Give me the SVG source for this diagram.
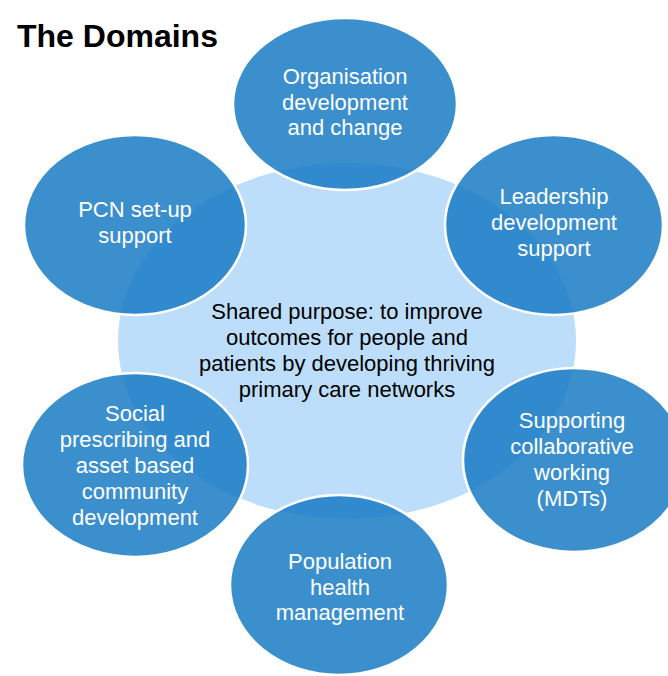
<svg xmlns="http://www.w3.org/2000/svg" width="668" height="676" viewBox="0 0 668 676">
<style>
.title{font-family:"Liberation Sans",Arial,sans-serif;font-weight:bold;font-size:32px;fill:#000}
.domain{fill:#1478C3;fill-opacity:0.83;stroke:#fff;stroke-width:2.5}
.lbl{font-family:"Liberation Sans",Arial,sans-serif;font-size:22px;fill:#fff;text-anchor:middle}
.ctr{font-family:"Liberation Sans",Arial,sans-serif;font-size:22px;fill:#000;text-anchor:middle}
</style>
<rect width="668" height="676" fill="#fff"/>
<text class="title" x="17" y="47">The Domains</text>
<g id="center">
<ellipse cx="347" cy="341" rx="229" ry="178" fill="#BDDEFB"/>
<text class="ctr" x="347" y="319">Shared purpose: to improve</text>
<text class="ctr" x="347" y="345">outcomes for people and</text>
<text class="ctr" x="347" y="371">patients by developing thriving</text>
<text class="ctr" x="347" y="397">primary care networks</text>
</g>
<g id="connectors"></g>
<g id="organisation">
<ellipse class="domain" cx="345" cy="104" rx="112" ry="86"/>
<text class="lbl" x="345" y="84">Organisation</text>
<text class="lbl" x="345" y="110">development</text>
<text class="lbl" x="345" y="135">and change</text>
</g>
<g id="leadership">
<ellipse class="domain" cx="554" cy="225" rx="109" ry="90"/>
<text class="lbl" x="554" y="204">Leadership</text>
<text class="lbl" x="554" y="230">development</text>
<text class="lbl" x="554" y="256">support</text>
</g>
<g id="pcn">
<ellipse class="domain" cx="135" cy="225" rx="111" ry="90"/>
<text class="lbl" x="135" y="217">PCN set-up</text>
<text class="lbl" x="135" y="243">support</text>
</g>
<g id="supporting">
<ellipse class="domain" cx="574" cy="460" rx="111" ry="92"/>
<text class="lbl" x="572" y="428">Supporting</text>
<text class="lbl" x="572" y="454">collaborative</text>
<text class="lbl" x="572" y="480">working</text>
<text class="lbl" x="572" y="506">(MDTs)</text>
</g>
<g id="social">
<ellipse class="domain" cx="135" cy="465" rx="113" ry="92"/>
<text class="lbl" x="135" y="421">Social</text>
<text class="lbl" x="135" y="447">prescribing and</text>
<text class="lbl" x="135" y="473">asset based</text>
<text class="lbl" x="135" y="499">community</text>
<text class="lbl" x="135" y="525">development</text>
</g>
<g id="population">
<ellipse class="domain" cx="339" cy="585" rx="109" ry="90"/>
<text class="lbl" x="340" y="569">Population</text>
<text class="lbl" x="340" y="595">health</text>
<text class="lbl" x="340" y="620">management</text>
</g>
</svg>
